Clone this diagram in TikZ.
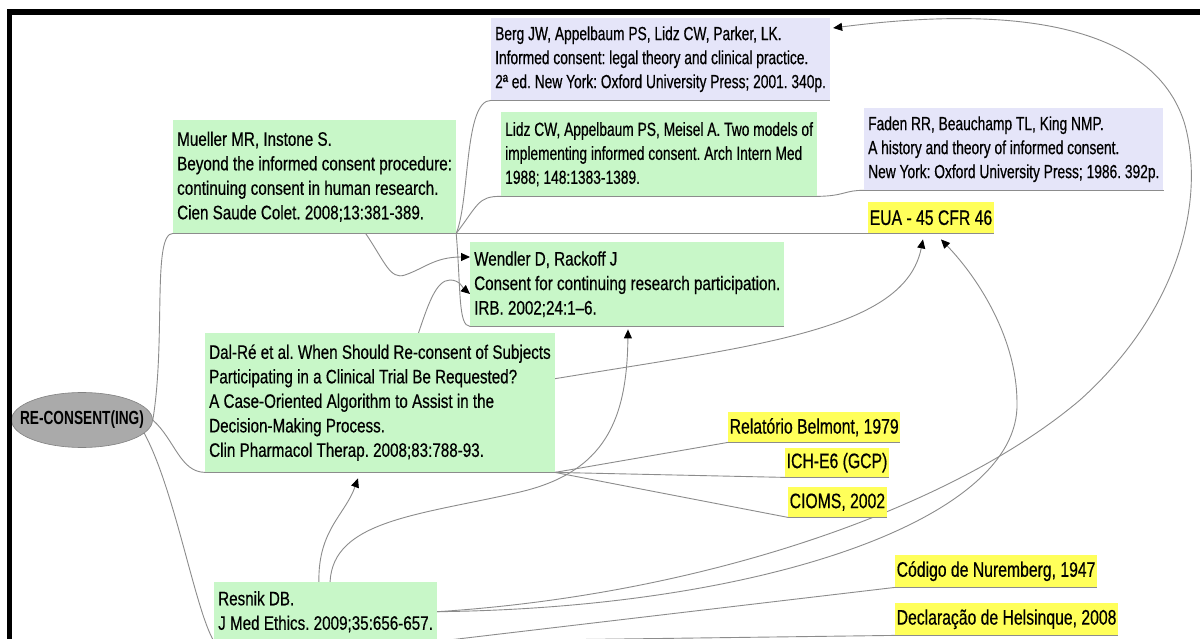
\documentclass[tikz,border=0pt]{standalone}
\usepackage{fontspec}
\setmainfont{Liberation Sans}
\newfontfamily\gfont[FakeStretch=0.78,FakeBold=0.5]{Liberation Sans}
\newfontfamily\lfont[FakeStretch=0.725,FakeBold=0.5]{Liberation Sans}
\newfontfamily\yfont[FakeStretch=0.75,FakeBold=0.5]{Liberation Sans}
\newfontfamily\efont[FakeStretch=0.72]{Liberation Sans}
\usetikzlibrary{arrows.meta,calc,shapes.geometric}
\pgfdeclarelayer{bg}
\pgfsetlayers{bg,main}
\definecolor{gfill}{RGB}{200,247,200}
\definecolor{lfill}{RGB}{229,229,249}
\definecolor{yfill}{RGB}{255,255,90}
\definecolor{edge}{RGB}{140,140,140}
\definecolor{ellfill}{RGB}{170,170,170}
\definecolor{elldraw}{RGB}{130,130,130}
\frenchspacing

\begin{document}
\begin{tikzpicture}[x=1pt,y=-1pt,
  link/.style={draw=edge,line width=0.9pt},
  arr/.style={link,-{Triangle[length=9pt,width=8pt,color=black]}},
  box/.style={anchor=north west,align=left,inner xsep=4pt,inner ysep=0pt,text=black},
  gbox/.style={box,fill=gfill,font=\gfont\fontsize{19.5}{24.5}\selectfont},
  gsbox/.style={box,fill=gfill,font=\lfont\fontsize{19}{24}\selectfont},
  lbox/.style={box,fill=lfill,font=\lfont\fontsize{19}{24}\selectfont},
  ybox/.style={box,fill=yfill,inner xsep=1.5pt,font=\yfont\fontsize{21}{25}\selectfont},
]
\useasboundingbox (0,0) rectangle (1200,639);
\clip (0,0) rectangle (1200,639);

% central topic
\node[ellipse,fill=ellfill,draw=elldraw,line width=0.6pt,minimum width=141pt,minimum height=55pt,inner sep=0pt,
      font=\efont\bfseries\fontsize{19}{22}\selectfont] (ell) at (82,420) {\makebox[0pt]{RE-CONSENT(ING)}};

% references
\node[lbox,minimum height=82pt] (berg) at (491,18)
  {Berg JW, Appelbaum PS, Lidz CW, Parker, LK.\\Informed consent: legal theory and clinical practice.\\2ª ed. New York: Oxford University Press; 2001. 340p.};
\node[gsbox,minimum height=84pt] (lidz) at (501,112)
  {Lidz CW, Appelbaum PS, Meisel A. Two models of\\implementing informed consent. Arch Intern Med\\1988; 148:1383-1389.};
\node[lbox,minimum height=82pt] (faden) at (864,108)
  {Faden RR, Beauchamp TL, King NMP.\\A history and theory of informed consent.\\New York: Oxford University Press; 1986. 392p.};
\node[ybox,minimum height=31pt] (eua) at (868,202) {EUA - 45 CFR 46};
\node[gbox,minimum height=113pt] (mueller) at (173,120)
  {Mueller MR, Instone S.\\Beyond the informed consent procedure:\\continuing consent in human research.\\Cien Saude Colet. 2008;13:381-389.};
\node[gbox,minimum height=84pt] (wendler) at (470,242)
  {Wendler D, Rackoff J\\Consent for continuing research participation.\\IRB. 2002;24:1–6.};
\node[gbox,minimum height=139pt] (dalre) at (205,333)
  {Dal-Ré et al. When Should Re-consent of Subjects\\Participating in a Clinical Trial Be Requested?\\A Case-Oriented Algorithm to Assist in the\\Decision-Making Process.\\Clin Pharmacol Therap. 2008;83:788-93.};
\node[gbox,minimum height=59pt] (resnik) at (214,582)
  {Resnik DB.\\J Med Ethics. 2009;35:656-657.};
\node[ybox,minimum height=30pt] (belmont) at (728,412) {Relatório Belmont, 1979};
\node[ybox,minimum height=29pt] (ich) at (785,448) {ICH-E6 (GCP)};
\node[ybox,minimum height=30pt] (cioms) at (788,487) {CIOMS, 2002};
\node[ybox,minimum height=32pt] (nuremberg) at (895,555) {Código de Nuremberg, 1947};
\node[ybox,minimum height=32pt] (helsinki) at (895,603) {Declaração de Helsinque, 2008};

\begin{pgfonlayer}{bg}
  \fill[white] (0,0) rectangle (1200,639);
  % underlines of the topics
  \foreach \n in {berg,lidz,faden,eua,mueller,wendler,dalre,resnik,belmont,ich,cioms,nuremberg,helsinki}
    \draw[link] (\n.south west) -- (\n.south east);

  % branches of the central topic
  \draw[link] (ell.east) .. controls (166,340) and (152,233) .. (mueller.south west);
  \draw[link] (ell.east) .. controls (175,440) and (180,472) .. (dalre.south west);
  \draw[link] (ell.-12) .. controls (175,490) and (195,610) .. (resnik.south west);

  % branches of Mueller
  \draw[link] (mueller.south east) .. controls (470,200) and (464,100) .. (berg.south west);
  \draw[link] (mueller.south east) .. controls (478,205) and (478,196) .. (lidz.south west);
  \draw[link] (mueller.south east) -- (eua.south west);
  \draw[link] (mueller.south east) .. controls (461,290) and (458,326) .. (wendler.south west);
  \draw[link] (lidz.south east) .. controls (845,196) and (845,190) .. (faden.south west);

  % branches of Dal-Re and Resnik
  \draw[link] (dalre.south east) -- (belmont.south west);
  \draw[link] (dalre.south east) -- (ich.south west);
  \draw[link] (dalre.south east) -- (cioms.south west);
  \draw[link] (resnik.south east) -- (nuremberg.south west);
  \draw[link] (resnik.south east) -- (helsinki.south west);

  % relationships
  \draw[arr] ($(mueller.south west)!0.68!(mueller.south east)$) .. controls (385,262) and (390,280) .. (405,275)
     .. controls (425,268) and (435,257) .. ($(wendler.north west)+(0,15)$);
  \draw[arr] ($(dalre.north west)!0.61!(dalre.north east)$) .. controls (428,305) and (436,280) .. (450,280)
     .. controls (460,280) and (463,288) .. ($(wendler.north west)+(0,52)$);
  \draw[arr] ($(dalre.east)+(0,-24)$) .. controls (760,345) and (905,330) .. ($(eua.south)+(-8,6)$);
  \draw[arr] (resnik.east) .. controls (760,608) and (1020,520) .. (1017,403)
     .. controls (1017,340) and (980,280) .. ($(eua.south)+(10,6)$);
  \draw[arr] (resnik.east) .. controls (700,595) and (950,510) .. (1080,400)
     .. controls (1180,310) and (1205,200) .. (1185,125)
     .. controls (1160,40) and (1050,0) .. ($(berg.north east)+(3,10)$);
  \draw[arr] ($(resnik.north west)!0.47!(resnik.north east)$) .. controls (318,530) and (345,515) .. ($(dalre.south west)+(153,6)$);
  \draw[arr] ($(resnik.north west)!0.52!(resnik.north east)$) .. controls (333,520) and (420,515) .. (520,492)
     .. controls (605,472) and (627,420) .. ($(wendler.south west)+(158,3)$);
\end{pgfonlayer}

% frame edges
\fill[black] (7,9) rectangle (1200,15);
\fill[black] (7,9) rectangle (12,639);
\end{tikzpicture}
\end{document}
